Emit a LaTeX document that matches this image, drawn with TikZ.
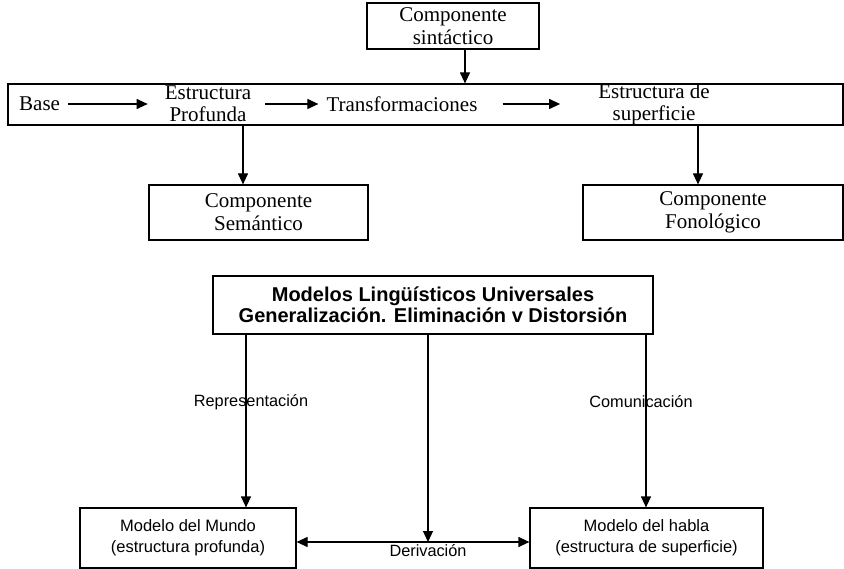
\documentclass[tikz,border=0pt]{standalone}
\usepackage{fontspec}
\setmainfont{Liberation Serif}
\setsansfont{Liberation Sans}
\usetikzlibrary{arrows.meta}
\tikzset{
  ln/.style={line width=1.2pt},
  arr/.style={ln,-{Triangle[length=11pt,width=10pt]}},
  darr/.style={ln,{Triangle[length=11pt,width=10pt]}-{Triangle[length=11pt,width=10pt]}},
  sbox/.style={draw,line width=1.2pt,inner sep=0pt,align=center,font=\fontsize{21}{23}\selectfont},
  stxt/.style={inner sep=0pt,align=center,font=\fontsize{21}{22}\selectfont},
  bbox/.style={draw,line width=1.2pt,inner sep=0pt,align=center,font=\sffamily\fontsize{16.5}{21}\selectfont},
  btxt/.style={inner sep=0pt,align=center,font=\sffamily\fontsize{16.3}{18}\selectfont}
}
\begin{document}
\begin{tikzpicture}[x=1pt,y=-1pt]
\useasboundingbox (0,0) rectangle (844,569);
% top part
\node[sbox,minimum width=172pt,minimum height=46pt] (sint) at (453,26) {Componente\\sintáctico};
\node[draw,line width=1.2pt,minimum width=835pt,minimum height=41pt,inner sep=0pt] (bar) at (425.5,104.5) {};
\node[stxt,anchor=west] (base) at (19,104) {Base};
\node[stxt] (ep) at (208,104) {Estructura\\Profunda};
\node[stxt] (tr) at (402,104) {Transformaciones};
\node[stxt] (es) at (654,104) {Estructura de\\superficie};
\node[sbox,minimum width=219pt,minimum height=55pt] (sem) at (258.5,212.5) {Componente\\Semántico};
\node[sbox,minimum width=260pt,minimum height=55pt] (fon) at (713,212.5) {Componente\\Fonológico};
\coordinate (c1) at (465,49);
\coordinate (c2) at (243,125);
\coordinate (c3) at (698,125);
\draw[arr] (c1) -- (c1 |- bar.north);
\draw[arr] ([xshift=8pt]base.east) -- ([xshift=-17pt]ep.west);
\draw[arr] ([xshift=14pt]ep.east) -- ([xshift=-8pt]tr.west);
\draw[arr] ([xshift=25pt]tr.east) -- ([xshift=-38pt]es.west);
\draw[arr] (c2) -- (c2 |- sem.north);
\draw[arr] (c3) -- (c3 |- fon.north);
% bottom part
\node[draw,line width=1.2pt,inner sep=0pt,minimum width=440pt,minimum height=58pt,align=center,font=\sffamily\bfseries\fontsize{20}{21}\selectfont] (mlu) at (433,305) {Modelos Lingüísticos Universales\\Generalización. Eliminación v Distorsión};
\node[bbox,minimum width=216pt,minimum height=60pt] (mm) at (188,538) {Modelo del Mundo\\(estructura profunda)};
\node[bbox,minimum width=233pt,minimum height=60pt] (mh) at (646.5,538) {Modelo del habla\\(estructura de superficie)};
\coordinate (d1) at (246,334);
\coordinate (d2) at (428,334);
\coordinate (d3) at (646,334);
\coordinate (dj) at (428,542);
\draw[arr] (d1) -- (d1 |- mm.north);
\draw[arr] (d3) -- (d3 |- mh.north);
\draw[arr] (d2) -- (dj);
\draw[darr] (mm.east |- dj) -- (mh.west |- dj);
\node[btxt] (rep) at (251,402) {Representación};
\node[btxt] (com) at (641,402) {Comunicación};
\node[btxt] (der) at (428,551) {Derivación};
\end{tikzpicture}
\end{document}
